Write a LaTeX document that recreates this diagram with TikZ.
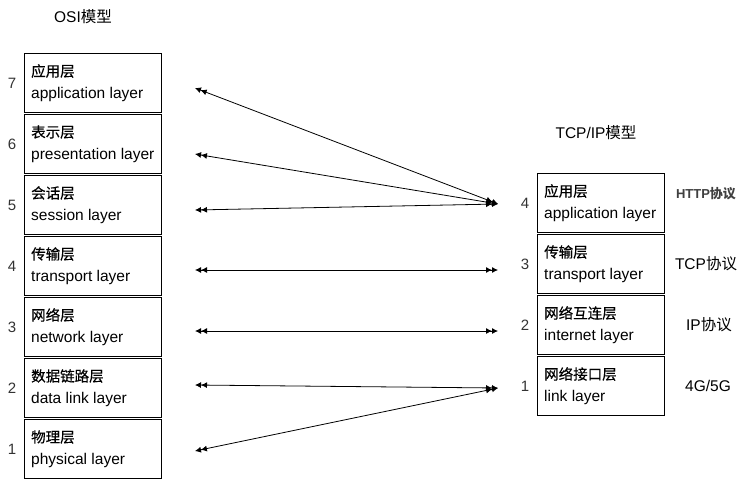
\documentclass[tikz,border=0pt]{standalone}
\usepackage{fontspec}
\setmainfont{Liberation Sans}
\newfontfamily\cjk{Noto Sans CJK SC}
\newfontfamily\cjkm[FakeBold=0.4]{Noto Sans CJK SC}
\usetikzlibrary{arrows.meta}
\tikzset{
  layerbox/.style={draw=black, line width=1pt, minimum width=#1, minimum height=59pt, inner sep=0pt, anchor=north west},
  zh/.style={anchor=west, inner sep=0pt, font=\cjkm\fontsize{14.5}{16}\selectfont},
  en/.style={anchor=west, inner sep=0pt, font=\fontsize{15.5}{17}\selectfont},
  num/.style={inner sep=0pt, font=\fontsize{15}{17}\selectfont, text=black!80},
  proto/.style={inner sep=0pt, font=\fontsize{15.5}{17}\selectfont},
  dbl/.style={line width=0.8pt, {Latex[length=6pt,width=6pt]Latex[length=6pt,width=6pt]}-{Latex[length=6pt,width=6pt]Latex[length=6pt,width=6pt]}}
}
\newcommand\mylayer[6]{%
  \node[layerbox=#6] (#1) at (#2) {};
  \node[zh] (#1zh) at ([xshift=7pt,yshift=-18pt]#1.north west) {#3};
  \node[en] (#1en) at ([xshift=7pt,yshift=-41pt]#1.north west) {#4};
  \node[num, anchor=center] (#1num) at ([xshift=-12pt]#1.west) {#5};
}
\begin{document}
\begin{tikzpicture}[x=1pt,y=-1pt]
\useasboundingbox (0,0) rectangle (751,482);
\node[font=\fontsize{15.5}{17}\selectfont, inner sep=0pt] (osititle) at (83,17) {OSI{\cjk 模型}};
\node[font=\fontsize{15.5}{17}\selectfont, inner sep=0pt] (tcptitle) at (596,133) {TCP/IP{\cjk 模型}};
\mylayer{o7}{24,53}{应用层}{application layer}{7}{137pt}
\mylayer{o6}{24,114}{表示层}{presentation layer}{6}{137pt}
\mylayer{o5}{24,175}{会话层}{session layer}{5}{137pt}
\mylayer{o4}{24,236}{传输层}{transport layer}{4}{137pt}
\mylayer{o3}{24,297}{网络层}{network layer}{3}{137pt}
\mylayer{o2}{24,358}{数据链路层}{data link layer}{2}{137pt}
\mylayer{o1}{24,419}{物理层}{physical layer}{1}{137pt}
\mylayer{t4}{537,173}{应用层}{application layer}{4}{127pt}
\mylayer{t3}{537,234}{传输层}{transport layer}{3}{127pt}
\mylayer{t2}{537,295}{网络互连层}{internet layer}{2}{127pt}
\mylayer{t1}{537,356}{网络接口层}{link layer}{1}{127pt}
\node[proto, font=\bfseries\fontsize{13}{15}\selectfont, text=black!75] (p4) at (706,194) {HTTP{\cjk\bfseries 协议}};
\node[proto] (p3) at (706,264) {TCP{\cjk 协议}};
\node[proto] (p2) at (709,325) {IP{\cjk 协议}};
\node[proto] (p1) at (708,386) {4G/5G};
\coordinate (l7) at (195,88);
\coordinate (l6) at (195,154);
\coordinate (l5) at (195,210);
\coordinate (l4) at (195,270);
\coordinate (l3) at (195,331);
\coordinate (l2) at (195,385);
\coordinate (l1) at (195,451);
\coordinate (r4) at (498,204);
\coordinate (r3) at (498,270);
\coordinate (r2) at (498,331);
\coordinate (r1) at (498,388);
\draw[dbl] (l7) -- (r4);
\draw[dbl] (l6) -- (r4);
\draw[dbl] (l5) -- (r4);
\draw[dbl] (l4) -- (r3);
\draw[dbl] (l3) -- (r2);
\draw[dbl] (l2) -- (r1);
\draw[dbl] (l1) -- (r1);
\end{tikzpicture}
\end{document}
